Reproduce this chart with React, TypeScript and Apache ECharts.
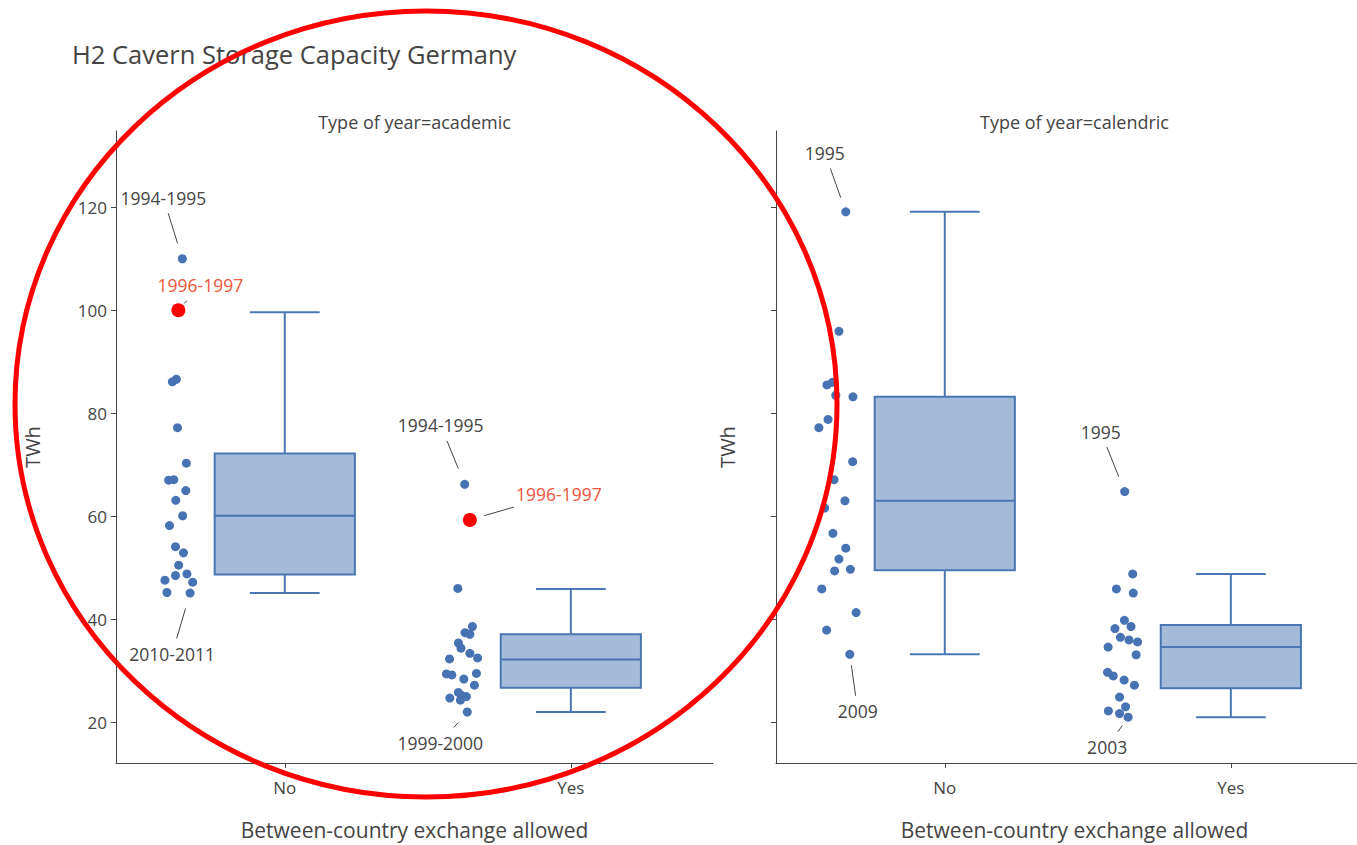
import React, { useEffect, useRef } from "react";
import * as echarts from "echarts";

// ---------- data ----------
const categories = ["No", "Yes"];
const yTicks = [20, 40, 60, 80, 100, 120];
const panelTitles = ["Type of year=academic", "Type of year=calendric"];

// academic, "No"
const academicNoValues = [110.0, 86.1, 86.6, 77.2, 70.3, 67.0, 67.1, 65.0, 63.1, 60.1, 58.2, 54.1, 52.9, 50.5, 48.5, 48.8, 47.6, 47.2, 45.2, 45.1];
const academicNoJitter = [-0.358, -0.393, -0.379, -0.375, -0.344, -0.406, -0.388, -0.346, -0.381, -0.357, -0.403, -0.382, -0.354, -0.371, -0.382, -0.342, -0.419, -0.322, -0.412, -0.331];
// academic, "Yes"
const academicYesValues = [66.2, 46.0, 38.6, 37.4, 37.1, 35.4, 34.4, 33.4, 32.5, 32.3, 29.4, 29.2, 29.5, 28.4, 27.2, 25.8, 25.2, 25.0, 24.7, 24.3, 22.0];
const academicYesJitter = [-0.371, -0.395, -0.344, -0.370, -0.353, -0.393, -0.384, -0.353, -0.326, -0.424, -0.435, -0.416, -0.330, -0.374, -0.337, -0.393, -0.381, -0.365, -0.423, -0.386, -0.362];
// calendric, "No"
const calendricNoValues = [119.1, 95.9, 86.0, 85.5, 83.5, 83.2, 78.8, 77.2, 70.6, 67.1, 63.0, 61.6, 56.7, 53.8, 51.7, 49.7, 49.4, 45.9, 41.3, 37.9, 33.2];
const calendricNoJitter = [-0.346, -0.370, -0.393, -0.412, -0.381, -0.321, -0.408, -0.440, -0.322, -0.387, -0.349, -0.420, -0.391, -0.346, -0.370, -0.330, -0.385, -0.430, -0.310, -0.413, -0.332];
// calendric, "Yes"
const calendricYesValues = [64.8, 48.8, 45.9, 45.1, 39.8, 38.6, 38.2, 36.5, 36.0, 35.6, 34.6, 33.1, 29.7, 29.0, 28.2, 27.2, 24.9, 23.0, 22.2, 21.7, 21.0];
const calendricYesJitter = [-0.371, -0.343, -0.400, -0.341, -0.372, -0.349, -0.405, -0.386, -0.356, -0.326, -0.429, -0.331, -0.431, -0.411, -0.373, -0.337, -0.389, -0.368, -0.428, -0.389, -0.359];

// highlighted year 1996-1997 (academic panel)
const highlightCategory = [0, 1];
const highlightValues = [100.0, 59.3];
const highlightJitter = [-0.372, -0.353];

// box statistics [lower whisker, Q1, median, Q3, upper whisker]
const academicBoxNo = [45.1, 48.7, 60.1, 72.2, 99.6];
const academicBoxYes = [22.0, 26.7, 32.2, 37.1, 45.9];
const calendricBoxNo = [33.2, 49.5, 63.0, 83.2, 119.1];
const calendricBoxYes = [21.0, 26.6, 34.6, 38.9, 48.8];

// ---------- styling ----------
const FONT = "'Open Sans', 'Noto Sans', sans-serif";
const BLUE = "#4773b3";
const BOX_STROKE = "#4a77b4";
const BOX_FILL = "rgba(74,119,180,0.5)";
const TEXT = "#444";

type Ann = { panel: number; cat: number; value: number; jitter: number; text: string; dx: number; dy: number; standoff: number; color: string };
const annotations: Ann[] = [
  { panel: 0, cat: 0, value: 110.0, jitter: -0.358, text: "1994-1995", dx: -19, dy: -61, standoff: 16, color: TEXT },
  { panel: 0, cat: 0, value: 100.0, jitter: -0.372, text: "1996-1997", dx: 22, dy: -25, standoff: 9, color: "#EF553B" },
  { panel: 0, cat: 0, value: 45.1, jitter: -0.331, text: "2010-2011", dx: -18, dy: 61, standoff: 16, color: TEXT },
  { panel: 0, cat: 1, value: 66.2, jitter: -0.371, text: "1994-1995", dx: -24, dy: -59, standoff: 17, color: TEXT },
  { panel: 0, cat: 1, value: 59.3, jitter: -0.353, text: "1996-1997", dx: 89, dy: -26, standoff: 15, color: "#EF553B" },
  { panel: 0, cat: 1, value: 22.0, jitter: -0.362, text: "1999-2000", dx: -27, dy: 31, standoff: 14, color: TEXT },
  { panel: 1, cat: 0, value: 119.1, jitter: -0.346, text: "1995", dx: -21, dy: -59, standoff: 15, color: TEXT },
  { panel: 1, cat: 0, value: 33.2, jitter: -0.332, text: "2009", dx: 8, dy: 57, standoff: 11, color: TEXT },
  { panel: 1, cat: 1, value: 64.8, jitter: -0.371, text: "1995", dx: -24, dy: -60, standoff: 16, color: TEXT },
  { panel: 1, cat: 1, value: 21.0, jitter: -0.359, text: "2003", dx: -21, dy: 30, standoff: 10, color: TEXT },
];

const X_MIN = -0.59;
const X_MAX = 1.497;
const Y_MIN = 12.1;
const Y_MAX = 134.8;
const GRID_TOP = 131;
const GRID_H = 635;
const GRID_W = 597;
const GRID_LEFTS = [116, 776];

const ANN_SIZE = 17.5;
const TICK_SIZE = 17;
const NAME_SIZE = 21;

function pts(values: number[], jitter: number[], cat: number) {
  return values.map((v, i) => [cat + jitter[i], v]);
}

function boxRender(params: any, api: any) {
  const x = api.value(0);
  const lo = api.value(1), q1 = api.value(2), med = api.value(3), q3 = api.value(4), hi = api.value(5);
  const hb = 0.245, hc = 0.122;
  const tl = api.coord([x - hb, q3]);
  const br = api.coord([x + hb, q1]);
  const m = api.coord([x, med]);
  const top = api.coord([x, hi]);
  const bot = api.coord([x, lo]);
  const cl = api.coord([x - hc, hi]);
  const cr = api.coord([x + hc, hi]);
  const st = { stroke: BOX_STROKE, lineWidth: 2, fill: "none" };
  return {
    type: "group",
    children: [
      { type: "line", shape: { x1: top[0], y1: top[1], x2: top[0], y2: tl[1] }, style: st },
      { type: "line", shape: { x1: bot[0], y1: br[1], x2: bot[0], y2: bot[1] }, style: st },
      { type: "line", shape: { x1: cl[0], y1: top[1], x2: cr[0], y2: top[1] }, style: st },
      { type: "line", shape: { x1: cl[0], y1: bot[1], x2: cr[0], y2: bot[1] }, style: st },
      { type: "rect", shape: { x: tl[0], y: tl[1], width: br[0] - tl[0], height: br[1] - tl[1] }, style: { fill: BOX_FILL, stroke: BOX_STROKE, lineWidth: 2 } },
      { type: "line", shape: { x1: tl[0], y1: m[1], x2: br[0], y2: m[1] }, style: st },
    ],
  };
}

export default function App() {
  const ref = useRef<HTMLDivElement>(null);
  useEffect(() => {
    if (!ref.current) return;
    const chart = echarts.init(ref.current, undefined, { renderer: "svg" });

    const grids = GRID_LEFTS.map((l) => ({ left: l, top: GRID_TOP, width: GRID_W, height: GRID_H, containLabel: false }));
    const xAxes = [0, 1].map((i) => ({
      type: "value",
      gridIndex: i,
      min: X_MIN,
      max: X_MAX,
      name: "Between-country exchange allowed",
      nameLocation: "middle",
      nameGap: 56,
      nameTextStyle: { color: TEXT, fontFamily: FONT, fontSize: NAME_SIZE },
      axisLine: { show: true, onZero: false, lineStyle: { color: "#444", width: 1 } },
      axisTick: { show: true, customValues: [0, 1], length: 5, lineStyle: { color: "#444" } },
      axisLabel: { show: true, customValues: [0, 1], formatter: (v: number) => categories[Math.round(v)], color: TEXT, fontFamily: FONT, fontSize: TICK_SIZE, margin: 16 },
      splitLine: { show: false },
    }));
    const yAxes = [0, 1].map((i) => ({
      type: "value",
      gridIndex: i,
      min: Y_MIN,
      max: Y_MAX,
      name: "TWh",
      nameLocation: "middle",
      nameGap: i === 0 ? 74 : 39,
      nameTextStyle: { color: TEXT, fontFamily: FONT, fontSize: 20 },
      axisLine: { show: true, onZero: false, lineStyle: { color: "#444", width: 1 } },
      axisTick: { show: true, customValues: yTicks, length: 5, lineStyle: { color: "#444" } },
      axisLabel: { show: i === 0, customValues: yTicks, color: TEXT, fontFamily: FONT, fontSize: TICK_SIZE, margin: 9 },
      splitLine: { show: false },
    }));

    const boxSeries = [
      { grid: 0, data: [[0, ...academicBoxNo], [1, ...academicBoxYes]] },
      { grid: 1, data: [[0, ...calendricBoxNo], [1, ...calendricBoxYes]] },
    ].map((b) => ({
      type: "custom",
      xAxisIndex: b.grid,
      yAxisIndex: b.grid,
      renderItem: boxRender,
      data: b.data,
      clip: false,
      encode: { x: 0, y: [1, 2, 3, 4, 5] },
    }));

    const scatterSeries = [
      { grid: 0, data: [...pts(academicNoValues, academicNoJitter, 0), ...pts(academicYesValues, academicYesJitter, 1)] },
      { grid: 1, data: [...pts(calendricNoValues, calendricNoJitter, 0), ...pts(calendricYesValues, calendricYesJitter, 1)] },
    ].map((s) => ({
      type: "scatter",
      xAxisIndex: s.grid,
      yAxisIndex: s.grid,
      data: s.data,
      symbolSize: 9,
      itemStyle: { color: BLUE, opacity: 1 },
      z: 3,
    }));

    const highlight = {
      type: "scatter",
      xAxisIndex: 0,
      yAxisIndex: 0,
      data: highlightValues.map((v, i) => [highlightCategory[i] + highlightJitter[i], v]),
      symbolSize: 14,
      itemStyle: { color: "#ff0000", opacity: 1 },
      z: 4,
    };

    chart.setOption({
      animation: false,
      backgroundColor: "#fff",
      grid: grids,
      xAxis: xAxes,
      yAxis: yAxes,
      series: [...boxSeries, ...scatterSeries, highlight],
    });

    // annotations computed from data positions
    const canvas = document.createElement("canvas");
    const ctx = canvas.getContext("2d")!;
    ctx.font = `${ANN_SIZE}px 'Open Sans'`;
    const graphics: any[] = [];
    graphics.push({
      type: "text",
      x: 72,
      y: 54,
      style: { text: "H2 Cavern Storage Capacity Germany", fill: TEXT, font: `25.5px ${FONT}`, align: "left", verticalAlign: "middle" },
    });
    panelTitles.forEach((t, i) => {
      graphics.push({
        type: "text",
        x: GRID_LEFTS[i] + GRID_W / 2,
        y: 122,
        style: { text: t, fill: TEXT, font: `18px ${FONT}`, align: "center", verticalAlign: "middle" },
      });
    });
    annotations.forEach((a) => {
      const p = chart.convertToPixel({ gridIndex: a.panel }, [a.cat + a.jitter, a.value]) as number[];
      const tx = p[0] + a.dx;
      const ty = p[1] + a.dy;
      const vx = p[0] - tx, vy = p[1] - ty;
      const len = Math.hypot(vx, vy);
      const ux = vx / len, uy = vy / len;
      const w = ctx.measureText(a.text).width;
      const hw = w / 2 + 2, hh = 15.5;
      const t = Math.min(hw / Math.max(Math.abs(ux), 1e-6), hh / Math.max(Math.abs(uy), 1e-6));
      graphics.push({
        type: "line",
        shape: { x1: tx + ux * t, y1: ty + uy * t, x2: p[0] - ux * a.standoff, y2: p[1] - uy * a.standoff },
        style: { stroke: "#444", lineWidth: 1 },
        z: 10,
      });
      graphics.push({
        type: "text",
        x: tx,
        y: ty,
        style: { text: a.text, fill: a.color, font: `${ANN_SIZE}px ${FONT}`, align: "center", verticalAlign: "middle" },
        z: 10,
      });
    });
    graphics.push({
      type: "ellipse",
      shape: { cx: 426, cy: 404, rx: 411, ry: 393 },
      style: { fill: "none", stroke: "#ff0000", lineWidth: 5 },
      z: 100,
    });
    chart.setOption({ graphic: graphics });

    return () => chart.dispose();
  }, []);
  return <div ref={ref} style={{ position: "fixed", left: 0, top: 0, width: 1380, height: 845, background: "#fff" }} />;
}
